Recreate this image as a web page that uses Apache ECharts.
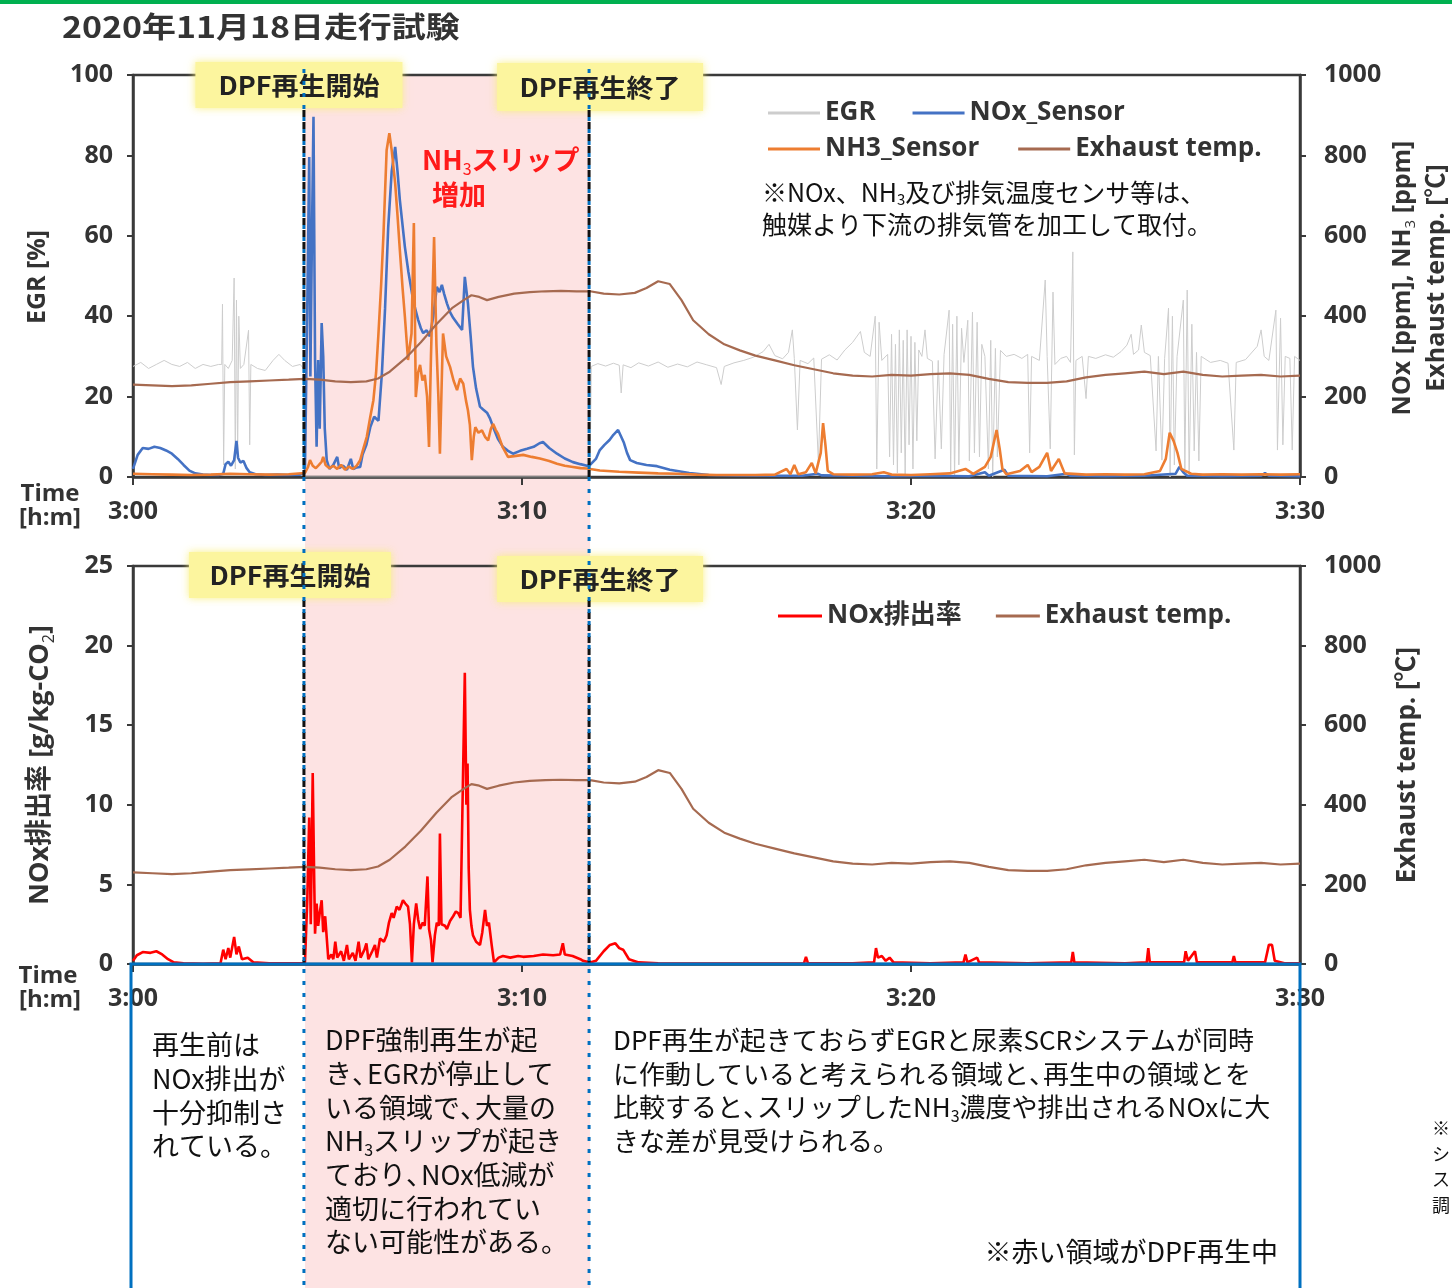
<!DOCTYPE html>
<html>
<head>
<meta charset="utf-8">
<script src="https://cdn.jsdelivr.net/npm/echarts@6/dist/echarts.min.js"></script>
<style>
html,body{margin:0;padding:0;background:#fff;}
#chart{width:1452px;height:1288px;}
</style>
</head>
<body>
<div id="chart"></div>
<script>
// time axis: minutes after 3:00
const timeTicks = [0, 10, 20, 30];
const tickLabels = ['3:00', '3:10', '3:20', '3:30'];

// DPF regeneration window (minutes after 3:00)
const regenStart = 4.42;
const regenEnd = 11.75;

// EGR [%]
const egrPct = [
  [0,27.5],[0.2,28.5],[0.4,27],[0.6,28],[0.8,29],[1.0,28],[1.2,27.5],[1.4,28.5],[1.6,27],[1.8,28],[2.0,27.5],[2.2,28],
  [2.28,28],[2.3,43],[2.33,3],[2.36,28],[2.45,27],[2.55,29],[2.6,49.5],[2.63,2],[2.66,44],[2.69,5],[2.72,40],[2.76,27],
  [2.85,28],[2.97,36.5],[3.0,8],[3.03,28],[3.2,27],[3.4,26.5],[3.6,29],[3.75,30.5],[3.9,29],[4.1,27.5],[4.3,28],[4.38,27],
  [4.42,0],[11.75,0],
  [11.78,27.5],[11.95,28.2],[12.15,27.6],[12.35,28.3],[12.5,27.8],[12.55,20.9],[12.6,27.9],[12.8,27.2],[13.0,28.4],
  [13.25,27.6],[13.5,28.6],[13.75,27.3],[14.0,28.1],[14.25,27.4],[14.5,28.6],[14.75,27.9],[15.0,27.2],[15.12,23.0],
  [15.2,27.5],[15.45,28.4],[15.7,29.0],[15.95,29.8],[16.2,31.2],[16.35,33.0],[16.5,30.2],[16.7,29.4],[16.85,31.0],
  [16.95,36.6],[17.0,29.5],[17.08,11.7],[17.15,29.0],[17.35,28.2],[17.5,29.6],[17.62,3.5],[17.7,29.3],[17.9,30.4],
  [18.1,29.1],[18.3,31.6],[18.5,33.5],[18.7,36.2],[18.8,31.0],[18.95,30.0],[19.08,40.0],[19.12,2.0],[19.18,38.5],[19.25,29.0],
  [19.4,30.5],[19.45,5],[19.5,35.5],[19.55,3],[19.6,33],[19.65,1],[19.7,36.6],[19.75,6],[19.8,34],[19.85,0],[19.9,36.6],
  [19.95,8],[20.0,35],[20.05,2],[20.1,33.5],[20.15,9],[20.2,31.6],[20.28,30],[20.36,36.6],[20.42,29.5],[20.55,28.8],
  [20.62,4.5],[20.7,29.0],[20.78,7],[20.85,30.5],[20.98,41.5],[21.02,1],[21.07,38],[21.12,0],[21.18,40],[21.23,3],
  [21.3,37],[21.36,28.5],[21.46,39],[21.5,4],[21.58,41],[21.63,6],[21.7,38.5],[21.76,5],[21.82,33],[21.9,30],[21.99,2],
  [22.05,34],[22.1,0],[22.17,32],[22.22,5],[22.3,31.5],[22.45,30],[22.65,30.5],[22.85,29.5],[23.0,30.5],[23.05,6],
  [23.1,30],[23.3,29],[23.45,49],[23.5,30],[23.58,7],[23.65,46],[23.7,28],[23.85,29.5],[24.0,30],[24.1,28.5],[24.16,56],
  [24.2,5.5],[24.24,29],[24.4,30],[24.5,19.5],[24.56,30],[24.75,29.5],[25.0,30.4],[25.2,29.8],[25.4,31.2],[25.55,32.8],
  [25.66,35.5],[25.72,30.5],[25.85,31.6],[25.92,37.8],[26.0,31.0],[26.15,30.2],[26.3,6.5],[26.36,30],[26.45,4.2],
  [26.52,29.5],[26.62,42],[26.66,0],[26.72,40],[26.77,3],[26.84,30],[27.0,44],[27.04,2],[27.1,46.5],[27.15,0],[27.22,38],
  [27.28,6.5],[27.34,31],[27.4,4],[27.46,30],[27.7,28.5],[27.95,29.0],[28.15,28.3],[28.3,6.7],[28.36,28.5],[28.6,29.2],
  [28.9,32.5],[29.0,36.6],[29.08,30.0],[29.2,29.0],[29.38,41.5],[29.42,6.7],[29.5,39.5],[29.56,8],[29.62,30],[29.74,29.5],
  [29.8,6.7],[29.86,30],[30.0,29]
];

// NOx sensor [ppm]
const noxPpm = [
  [0,20],[0.12,55],[0.25,72],[0.4,70],[0.55,75],[0.7,72],[0.85,66],[1.0,58],[1.15,45],[1.3,30],[1.45,16],[1.6,9],[1.8,6],
  [2.0,5],[2.2,5],[2.32,8],[2.38,32],[2.45,38],[2.52,28],[2.6,42],[2.66,90],[2.7,48],[2.76,36],[2.84,40],[2.92,22],[3.0,12],
  [3.15,7],[3.4,5],[3.7,6],[4.0,5],[4.3,6],[4.42,12],
  [4.48,420],[4.53,796],[4.56,250],[4.6,600],[4.64,896],[4.68,291],[4.72,75],[4.76,291],[4.8,120],[4.85,383],[4.89,300],
  [4.93,120],[4.98,42],[5.05,20],[5.15,30],[5.25,50],[5.3,22],[5.4,28],[5.5,18],[5.6,45],[5.66,20],[5.75,24],[5.84,25],
  [5.9,55],[6.0,80],[6.1,124],[6.2,150],[6.31,140],[6.4,260],[6.48,420],[6.56,620],[6.65,760],[6.74,821],[6.8,760],
  [6.86,689],[6.99,572],[7.08,510],[7.17,458],[7.25,420],[7.33,391],[7.4,370],[7.46,358],[7.55,365],[7.63,350],[7.72,400],
  [7.81,473],[7.88,460],[7.94,478],[8.0,455],[8.07,432],[8.15,410],[8.23,396],[8.35,380],[8.46,366],[8.53,498],[8.61,432],
  [8.68,350],[8.74,274],[8.82,220],[8.92,175],[9.0,168],[9.1,160],[9.18,145],[9.26,124],[9.38,95],[9.51,75],[9.64,65],
  [9.77,58],[9.95,65],[10.13,70],[10.3,75],[10.45,84],[10.54,87],[10.7,72],[10.9,58],[11.1,46],[11.31,37],[11.5,32],
  [11.67,28],[11.75,30],
  [11.9,45],[12.0,67],[12.12,80],[12.25,92],[12.35,105],[12.47,117],[12.55,100],[12.62,85],[12.7,60],[12.78,42],[12.95,35],
  [13.2,30],[13.47,27],[13.8,18],[14.3,10],[14.8,5],[15.5,4],[16.5,3],[17.2,3],[17.6,8],[17.7,4],[18.5,3],[19.5,2],[20.5,3],
  [21.5,2],[21.9,12],[22.0,3],[22.4,18],[22.5,3],[23.5,2],[24.0,8],[24.1,3],[25.0,2],[26.0,3],[26.8,8],[26.9,25],[27.0,12],
  [27.1,3],[28.0,2],[29.0,3],[29.1,10],[29.2,3],[30.0,2]
];

// NH3 sensor [ppm]
const nh3Ppm = [
  [0,8],[0.5,7],[1.0,6],[1.5,5],[2.0,6],[2.5,8],[3.0,7],[3.5,6],[4.0,7],[4.42,10],[4.5,25],[4.55,42],[4.62,28],[4.7,22],
  [4.78,30],[4.85,38],[4.89,50],[4.95,30],[5.05,22],[5.15,28],[5.25,20],[5.35,30],[5.45,18],[5.55,26],[5.65,20],[5.75,28],
  [5.84,42],[5.92,70],[6.01,100],[6.1,150],[6.18,191],[6.25,260],[6.31,357],[6.38,480],[6.44,606],[6.52,813],[6.59,855],
  [6.65,813],[6.74,730],[6.8,650],[6.86,564],[6.93,470],[6.99,398],[7.07,291],[7.16,357],[7.22,632],[7.27,199],[7.33,260],
  [7.38,279],[7.44,240],[7.5,254],[7.56,200],[7.61,75],[7.66,300],[7.74,597],[7.8,330],[7.85,200],[7.89,58],[7.94,250],
  [7.97,357],[8.05,300],[8.15,274],[8.24,240],[8.33,216],[8.41,245],[8.49,232],[8.56,190],[8.61,166],[8.66,130],[8.71,42],
  [8.76,100],[8.8,124],[8.88,110],[8.97,116],[9.05,100],[9.13,91],[9.2,120],[9.26,132],[9.32,118],[9.38,108],[9.5,75],
  [9.64,50],[9.8,52],[10.03,55],[10.25,50],[10.46,46],[10.7,40],[10.9,33],[11.1,28],[11.31,25],[11.5,22],[11.67,21],[11.75,20],
  [12.0,16],[12.5,13],[13.0,11],[13.5,9],[14.0,8],[14.5,6],[15.0,5],[15.5,5],[16.0,5],[16.5,6],[16.8,20],[16.9,7],[17.0,30],
  [17.1,7],[17.3,12],[17.45,35],[17.55,9],[17.68,60],[17.74,134],[17.8,80],[17.86,15],[18.0,7],[18.5,6],[19.0,7],[19.3,12],
  [19.5,6],[20.0,5],[20.5,7],[21.0,9],[21.4,20],[21.6,8],[21.9,25],[22.05,50],[22.2,117],[22.28,70],[22.35,20],[22.45,7],
  [22.8,15],[23.0,30],[23.1,12],[23.3,25],[23.5,60],[23.6,15],[23.8,45],[23.95,9],[24.5,6],[25.0,7],[25.5,6],[26.0,7],
  [26.4,15],[26.55,45],[26.65,110],[26.75,90],[26.85,60],[26.95,20],[27.2,8],[27.5,6],[28.0,7],[28.5,6],[29.0,7],[29.5,6],[30.0,7]
];

// exhaust gas temperature [°C]
const exhaustTemp = [
  [0,230],[0.5,228],[1.0,226],[1.5,228],[2.0,232],[2.5,236],[3.0,238],[3.5,240],[4.0,242],[4.42,244],[4.8,242],[5.2,238],
  [5.6,236],[6.0,238],[6.3,245],[6.6,262],[7.0,295],[7.4,335],[7.8,380],[8.2,420],[8.5,440],[8.7,452],[8.9,448],[9.1,440],
  [9.4,448],[9.8,456],[10.2,460],[10.6,462],[11.0,463],[11.4,462],[11.75,462],[12.1,456],[12.5,454],[12.9,458],[13.2,470],
  [13.5,487],[13.8,480],[14.1,440],[14.4,390],[14.8,355],[15.2,330],[15.6,315],[16.0,302],[16.5,290],[17.0,278],[17.5,268],
  [18.0,258],[18.5,252],[19.0,250],[19.5,254],[20.0,252],[20.5,256],[21.0,258],[21.5,254],[22.0,244],[22.5,236],[23.0,234],
  [23.5,234],[24.0,238],[24.5,248],[25.0,254],[25.5,258],[26.0,262],[26.5,256],[27.0,262],[27.5,254],[28.0,250],[28.5,252],
  [29.0,254],[29.5,250],[30.0,252]
];

// NOx emission rate [g/kg-CO2]
const noxRate = [
  [0,0.2],[0.1,0.55],[0.25,0.75],[0.45,0.7],[0.6,0.8],[0.75,0.6],[0.9,0.3],[1.05,0.1],[1.3,0.05],[1.8,0.02],[2.25,0.05],
  [2.32,0.9],[2.38,0.3],[2.45,1.0],[2.5,0.4],[2.6,1.7],[2.66,0.6],[2.72,1.1],[2.8,0.3],[2.95,0.4],[3.1,0.1],[3.5,0.05],
  [4.0,0.04],[4.42,0.05],
  [4.48,4.0],[4.53,9.2],[4.57,2.5],[4.62,12.0],[4.66,5.0],[4.68,1.9],[4.72,3.8],[4.76,2.4],[4.8,3.2],[4.85,4.0],[4.89,2.0],
  [4.94,3.0],[5.0,1.0],[5.02,0.3],[5.1,0.6],[5.15,0.3],[5.2,1.4],[5.25,0.4],[5.35,0.8],[5.42,0.2],[5.5,1.2],[5.55,0.3],
  [5.65,0.7],[5.72,0.2],[5.8,1.4],[5.85,0.4],[5.95,0.9],[6.0,1.3],[6.05,0.3],[6.15,0.8],[6.22,1.2],[6.27,0.4],[6.35,1.6],
  [6.45,1.4],[6.52,1.8],[6.58,2.6],[6.65,3.2],[6.7,2.9],[6.78,3.6],[6.85,3.4],[6.94,4.0],[7.0,3.8],[7.07,3.6],[7.12,2.5],
  [7.17,0.1],[7.22,2.5],[7.28,3.8],[7.33,2.8],[7.38,2.2],[7.45,2.6],[7.5,2.4],[7.57,5.5],[7.61,2.2],[7.66,1.5],[7.7,0.1],
  [7.76,1.8],[7.81,2.6],[7.86,2.4],[7.89,8.2],[7.93,2.5],[7.96,2.6],[8.02,2.4],[8.07,2.2],[8.15,2.7],[8.23,3.0],[8.3,3.3],
  [8.36,3.2],[8.42,2.9],[8.47,3.0],[8.53,18.3],[8.57,10],[8.6,12.6],[8.63,6.0],[8.66,3.4],[8.7,2.4],[8.74,1.8],[8.82,1.4],
  [8.92,1.2],[8.98,2.0],[9.05,3.4],[9.1,2.4],[9.15,2.6],[9.22,1.2],[9.28,0.1],[9.4,0.4],[9.51,0.5],[9.7,0.4],[9.9,0.5],
  [10.03,0.45],[10.3,0.5],[10.54,0.6],[10.8,0.55],[10.98,0.6],[11.05,1.3],[11.1,0.6],[11.3,0.5],[11.5,0.3],[11.57,0.2],[11.75,0.1],
  [11.9,0.2],[12.1,0.8],[12.26,1.2],[12.4,1.3],[12.5,1.0],[12.6,0.9],[12.75,0.3],[13.0,0.1],[13.5,0.05],[14.5,0.03],[15.5,0.03],
  [16.5,0.03],[17.25,0.05],[17.3,0.45],[17.35,0.05],[18.5,0.05],[19.05,0.1],[19.1,1.0],[19.15,0.4],[19.25,0.5],[19.35,0.2],
  [19.45,0.4],[19.55,0.1],[20.5,0.05],[21.35,0.1],[21.4,0.6],[21.45,0.1],[21.7,0.4],[21.75,0.1],[23.0,0.05],[24.12,0.1],
  [24.16,0.75],[24.2,0.1],[25.5,0.05],[26.06,0.1],[26.1,1.0],[26.14,0.1],[27.02,0.1],[27.06,0.8],[27.12,0.2],[27.3,0.8],
  [27.35,0.1],[28.26,0.1],[28.3,0.5],[28.34,0.1],[29.1,0.1],[29.2,1.2],[29.28,1.2],[29.35,0.2],[29.6,0.05],[30.0,0.05]
];

const LAT = "'Open Sans','Noto Sans CJK JP',sans-serif";
const JP = "'Noto Sans CJK JP','Noto Sans',sans-serif";
const C_EGR = '#cdcdcd', C_NOX = '#4472c4', C_NH3 = '#ed7d31', C_TEMP = '#a66a50', C_RATE = '#ff0000';
const AXIS = '#3a3a3a', LABEL = '#333333';

const chart = echarts.init(document.getElementById('chart'), null, {renderer: 'canvas'});

function xAxisCfg(i) {
  return {
    type: 'value', gridIndex: i, min: 0, max: 30, interval: 10,
    axisLine: {show: true, onZero: false, lineStyle: {color: AXIS, width: 2.5}},
    axisTick: {show: true, length: 8, lineStyle: {color: AXIS, width: 2}},
    splitLine: {show: false},
    axisLabel: {
      formatter: v => tickLabels[timeTicks.indexOf(v)],
      margin: 22, color: LABEL, fontFamily: LAT, fontWeight: 'bold', fontSize: 25
    }
  };
}
function yAxisCfg(i, pos, max, step) {
  return {
    type: 'value', gridIndex: i, position: pos, min: 0, max: max, interval: step,
    axisLine: {show: true, lineStyle: {color: AXIS, width: 2.5}},
    axisTick: {show: true, length: 6, lineStyle: {color: AXIS, width: 2}},
    splitLine: {show: false},
    axisLabel: {formatter: v => String(v), margin: pos === 'left' ? 20 : 24, color: LABEL, fontFamily: LAT, fontWeight: 'bold', fontSize: 25}
  };
}
function lineSeries(name, data, xi, yi, color, width) {
  return {
    name: name, type: 'line', xAxisIndex: xi, yAxisIndex: yi, data: data,
    symbol: 'none', showSymbol: false, smooth: false,
    lineStyle: {color: color, width: width}, itemStyle: {color: color}
  };
}
const legendText = {color: LABEL, fontFamily: LAT, fontWeight: 'bold', fontSize: 26};
function legendRow(names, left, top, w, gap) {
  return {data: names, left: left, top: top, padding: 0, icon: 'rect', itemWidth: w, itemHeight: 3, itemGap: gap,
    selectedMode: false, textStyle: legendText};
}

chart.setOption({
  animation: false,
  backgroundColor: '#ffffff',
  grid: [
    {left: 133, top: 75, width: 1167, height: 402, show: true, borderColor: AXIS, borderWidth: 2.5, backgroundColor: 'transparent'},
    {left: 133, top: 566, width: 1167, height: 398, show: true, borderColor: AXIS, borderWidth: 2.5, backgroundColor: 'transparent'}
  ],
  xAxis: [xAxisCfg(0), xAxisCfg(1)],
  yAxis: [
    yAxisCfg(0, 'left', 100, 20),
    yAxisCfg(0, 'right', 1000, 200),
    yAxisCfg(1, 'left', 25, 5),
    yAxisCfg(1, 'right', 1000, 200)
  ],
  legend: [
    legendRow(['EGR', 'NOx_Sensor'], 768, 100, 52, 37),
    legendRow(['NH3_Sensor', 'Exhaust temp.'], 768, 136, 52, 39),
    legendRow(['NOx排出率', 'Exhaust temp.'], 778, 603, 44, 34)
  ],
  series: [
    lineSeries('EGR', egrPct, 0, 0, C_EGR, 1),
    lineSeries('NOx_Sensor', noxPpm, 0, 1, C_NOX, 2.6),
    lineSeries('NH3_Sensor', nh3Ppm, 0, 1, C_NH3, 2.6),
    lineSeries('Exhaust temp.', exhaustTemp, 0, 1, C_TEMP, 2.2),
    lineSeries('NOx排出率', noxRate, 1, 2, C_RATE, 2.6),
    lineSeries('Exhaust temp.', exhaustTemp, 1, 3, C_TEMP, 2.2)
  ]
});

// pixel positions of the regeneration window and plot edges
const xs = chart.convertToPixel({xAxisIndex: 0}, regenStart);
const xe = chart.convertToPixel({xAxisIndex: 0}, regenEnd);
const topY1 = chart.convertToPixel({yAxisIndex: 0}, 100);
const botY1 = chart.convertToPixel({yAxisIndex: 0}, 0);
const botY2 = chart.convertToPixel({yAxisIndex: 2}, 0);
const leftX = chart.convertToPixel({xAxisIndex: 1}, 0);
const rightX = chart.convertToPixel({xAxisIndex: 1}, 30);
const PAGE_H = 1288;

// subscript digits and a narrow ideographic comma
function richStyles(size, font) {
  return {
    sub: {fontSize: Math.round(size * 0.6), verticalAlign: 'bottom', fontFamily: font || JP},
    cm: {width: Math.round(size * 0.55)}
  };
}
function narrowComma(s) { return s.replace(/、/g, '{cm|、}'); }

function text(x, y, str, o) {
  o = o || {};
  const size = o.size || 27;
  return {
    type: 'text', x: x, y: y, z: o.z || 100,
    rotation: o.rotation || 0, scaleX: o.scaleX || 1,
    style: {
      text: o.narrow ? narrowComma(str) : str, fill: o.fill || '#111', fontFamily: o.font || JP,
      fontWeight: o.weight || 'normal', fontSize: size,
      align: o.align || 'left', verticalAlign: 'middle',
      lineHeight: o.lineHeight || Math.round(size * 1.25), rich: richStyles(size, o.font)
    }
  };
}
function lines(x, y0, step, arr, o) {
  return arr.map((s, i) => text(x, y0 + i * step, s, o));
}
function yellowBox(cx, cy, w, h, label) {
  return [
    {type: 'rect', z: 60, shape: {x: cx - w / 2, y: cy - h / 2, width: w, height: h},
     style: {fill: '#fcf59e', shadowBlur: 8, shadowColor: 'rgba(250,238,120,0.9)'}},
    text(cx, cy, label, {z: 65, align: 'center', weight: 'bold', size: 25, fill: '#222', scaleX: 1.08})
  ];
}
function vline(x, y1, y2, color, dash, offset, z) {
  return {type: 'line', z: z, shape: {x1: x, y1: y1, x2: x, y2: y2},
    style: {stroke: color, lineWidth: 3, lineDash: dash, lineDashOffset: offset || 0}};
}

const g = [];
// header rule and title
g.push({type: 'rect', z: 100, shape: {x: 0, y: 0, width: 1452, height: 4}, style: {fill: '#00b050'}});
g.push(text(62, 27, '2020年11月18日走行試験', {weight: 'bold', size: 29, fill: '#333', scaleX: 1.17}));

// regeneration band
g.push({type: 'rect', z: -10, shape: {x: xs, y: topY1, width: xe - xs, height: PAGE_H - topY1}, style: {fill: '#fde3e3'}});

// start / end markers
g.push(...yellowBox(xs - 6, 85, 207, 46, 'DPF再生開始'));
g.push(...yellowBox(xe + 10, 87, 206, 48, 'DPF再生終了'));
g.push(...yellowBox(xs - 15, 575, 202, 46, 'DPF再生開始'));
g.push(...yellowBox(xe + 10, 579, 206, 46, 'DPF再生終了'));
[xs - 1, xe - 1].forEach(x => {
  g.push(vline(x, 110, botY1, '#111', [7, 5], 0, 70));
  g.push(vline(x, 600, botY2, '#111', [7, 5], 0, 70));
  g.push(vline(x, 62, PAGE_H, '#0070c0', [4, 8], -7, 72));
});

// annotations in the upper panel
g.push(text(422, 160, 'NH{sub|3}スリップ', {weight: 'bold', size: 27, fill: '#ff1a1a', lineHeight: 34}));
g.push(text(432, 195, '増加', {weight: 'bold', size: 27, fill: '#ff1a1a'}));
g.push(text(762, 192, '※NOx、NH{sub|3}及び排気温度センサ等は、', {size: 25, lineHeight: 30}));
g.push(text(762, 224, '触媒より下流の排気管を加工して取付。', {size: 25}));

// axis titles
const nameOpt = {font: LAT, weight: 'bold', size: 25, fill: LABEL, align: 'center', rotation: Math.PI / 2};
g.push(text(38, 277, 'EGR [%]', nameOpt));
g.push(text(1403, 278, 'NOx [ppm], NH{sub|3} [ppm]', nameOpt));
g.push(text(1437, 278, 'Exhaust temp. [℃]', nameOpt));
g.push(text(40, 765, 'NOx排出率 [g/kg-CO{sub|2}]', Object.assign({}, nameOpt, {size: 27})));
g.push(text(1408, 765, 'Exhaust temp. [℃]', Object.assign({}, nameOpt, {size: 26})));
const timeOpt = {font: LAT, weight: 'bold', size: 24, fill: LABEL, align: 'center'};
g.push(text(50, 494, 'Time', timeOpt), text(50, 518, '[h:m]', timeOpt));
g.push(text(48, 976, 'Time', timeOpt), text(50, 1000, '[h:m]', timeOpt));

// commentary frame below the lower panel
g.push({type: 'polyline', z: 110, shape: {points: [[leftX - 2, PAGE_H + 5], [leftX - 2, botY2], [rightX, botY2], [rightX, PAGE_H + 5]]},
  style: {stroke: '#0070c0', lineWidth: 3, fill: null}});
const LH = 33.7;
g.push(...lines(152, 1045, LH, ['再生前は', 'NOx排出が', '十分抑制さ', 'れている。']));
g.push(...lines(325, 1040, LH, ['DPF強制再生が起', 'き、EGRが停止して', 'いる領域で、大量の', 'NH{sub|3}スリップが起き',
  'ており、NOx低減が', '適切に行われてい', 'ない可能性がある。'], {narrow: true, lineHeight: 34}));
g.push(...lines(613, 1040, LH, ['DPF再生が起きておらずEGRと尿素SCRシステムが同時',
  'に作動していると考えられる領域と、再生中の領域とを',
  '比較すると、スリップしたNH{sub|3}濃度や排出されるNOxに大',
  'きな差が見受けられる。'], {narrow: true, size: 26, lineHeight: 33}));
g.push(text(1278, 1252, '※赤い領域がDPF再生中', {align: 'right'}));
g.push(...lines(1432, 1128, 25.7, ['※', 'シ', 'ス', '調'], {size: 18}));

chart.setOption({graphic: {elements: g}});
</script>
</body>
</html>
